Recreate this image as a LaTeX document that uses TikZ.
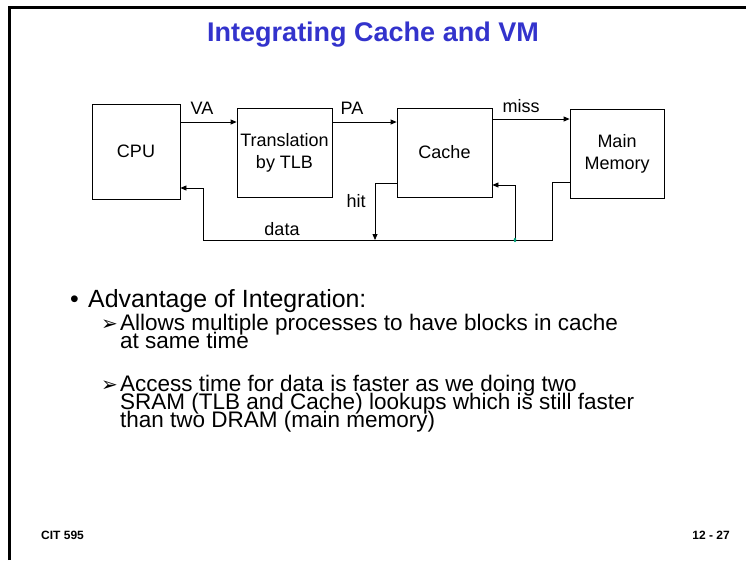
\documentclass[tikz,border=0pt]{standalone}
\usepackage{fontspec}
\setmainfont{Liberation Sans}
\newfontfamily\dingfont{DejaVu Sans}
\usetikzlibrary{arrows.meta}
\definecolor{titleblue}{RGB}{51,51,204}
\definecolor{dotgreen}{RGB}{0,160,120}
\tikzset{
  box/.style={draw, line width=0.8pt, inner sep=0pt, align=center, font=\fontsize{18}{22}\selectfont},
  lbl/.style={inner sep=0pt, font=\fontsize{18}{22}\selectfont},
  conn/.style={line width=0.8pt},
  arr/.style={conn, -{Triangle[length=6pt,width=5pt]}},
  body/.style={inner sep=0pt, anchor=base west, font=\fontsize{24.9}{25}\selectfont},
  sub/.style={inner sep=0pt, anchor=base west, font=\fontsize{22.5}{23}\selectfont},
  foot/.style={inner sep=0pt, font=\fontsize{12}{13}\selectfont\bfseries},
}
\begin{document}
\begin{tikzpicture}[x=1pt,y=-1pt]
\useasboundingbox (0,0) rectangle (746,560);
% frame
\draw[line width=2.6pt] (9.5,560) -- (9.5,7.5) -- (746,7.5);
% title
\node[inner sep=0pt, anchor=base, text=titleblue, font=\fontsize{27}{30}\selectfont\bfseries] (title) at (373,41) {Integrating Cache and VM};
% boxes
\node[box, minimum width=88pt, minimum height=95pt] (cpu) at (136,151.5) {CPU};
\node[box, minimum width=95pt, minimum height=89pt] (tlb) at (284.5,152.5) {Translation\\by TLB};
\node[box, minimum width=95pt, minimum height=89pt] (cache) at (444.5,152.5) {Cache};
\node[box, minimum width=94pt, minimum height=89pt] (mem) at (617,153.5) {Main\\Memory};
% helper coordinates
\coordinate (hitc) at (375,240);
\coordinate (d1) at (552,240);
\coordinate (d2) at (203,240);
\coordinate (rj) at (515,240);
% connectors
\draw[arr] (cpu.east|-0,122) -- (tlb.west|-0,122);
\draw[arr] (tlb.east|-0,122) -- (cache.west|-0,122);
\draw[arr] (cache.east|-0,119) -- (mem.west|-0,119);
\draw[arr] (cache.west|-0,183) -| (hitc);
\draw[arr] (mem.west|-0,182) -| (d1) -- (d2) |- (cpu.east|-0,188);
\draw[arr] (rj) |- (cache.east|-0,185);
\fill[dotgreen] (rj) ellipse (1.3pt and 2.2pt);
% labels
\node[lbl] (va) at (202,108) {VA};
\node[lbl] (pa) at (352,108) {PA};
\node[lbl] (miss) at (521,106) {miss};
\node[lbl] (hit) at (356,201) {hit};
\node[lbl] (data) at (282,229) {data};
% body text
\node[body] (b0) at (70,307) {\textbullet};
\node[body] (t0) at (88,307) {Advantage of Integration:};
\node[sub] (a1) at (101,330) {\dingfont\fontsize{20}{20}\selectfont ➢};
\node[sub] (t1) at (120,330) {Allows multiple processes to have blocks in cache};
\node[sub] (t2) at (120,348) {at same time};
\node[sub] (a2) at (101,391) {\dingfont\fontsize{20}{20}\selectfont ➢};
\node[sub] (t3) at (120,391) {Access time for data is faster as we doing two};
\node[sub] (t4) at (120,409) {SRAM (TLB and Cache) lookups which is still faster};
\node[sub] (t5) at (120,427) {than two DRAM (main memory)};
% footer
\node[foot, anchor=base west] (f1) at (41,539) {CIT 595};
\node[foot, anchor=base east] (f2) at (730,539) {12 - 27};
\end{tikzpicture}
\end{document}
